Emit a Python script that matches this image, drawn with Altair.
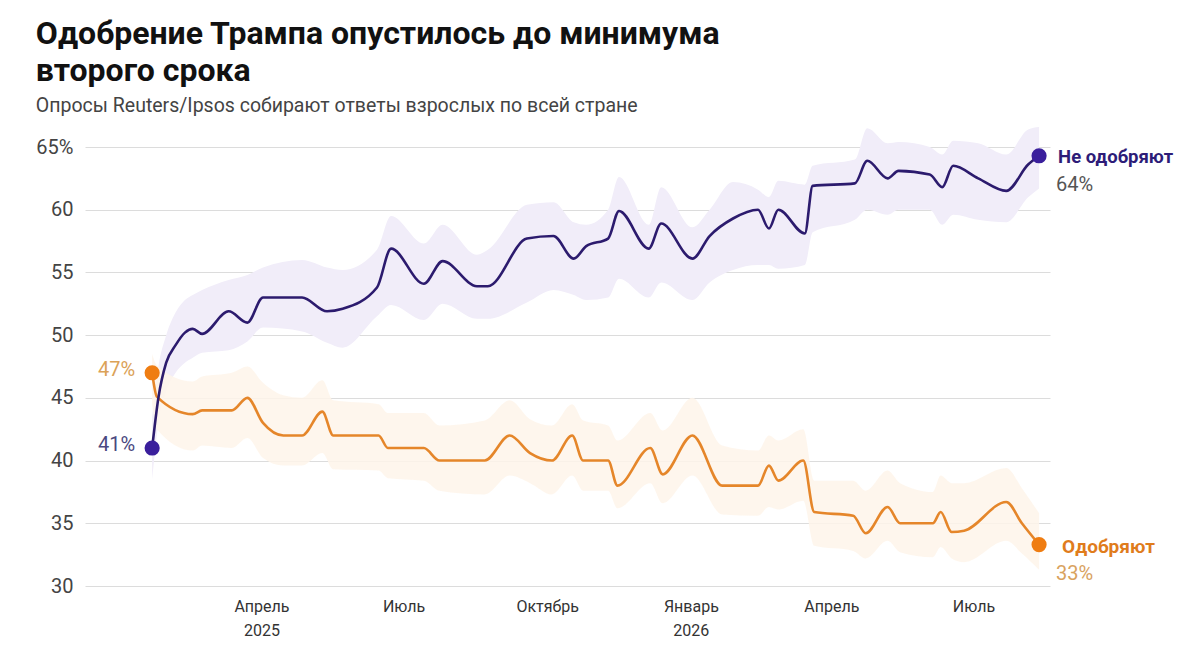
import altair as alt
import pandas as pd

# ---------------- data ----------------
dis_dates = ["2025-01-21", "2025-01-25", "2025-01-30", "2025-02-05", "2025-02-11", "2025-02-16",
             "2025-02-22", "2025-03-11", "2025-03-23", "2025-04-02", "2025-04-27", "2025-05-13",
             "2025-05-23", "2025-06-14", "2025-06-23", "2025-07-14", "2025-07-26", "2025-08-17",
             "2025-08-24", "2025-09-18", "2025-10-05", "2025-10-18", "2025-10-26", "2025-11-09",
             "2025-11-16", "2025-12-05", "2025-12-13", "2026-01-02", "2026-01-13", "2026-01-28",
             "2026-02-13", "2026-02-20", "2026-02-26", "2026-03-15", "2026-03-20", "2026-04-16",
             "2026-04-24", "2026-05-07", "2026-05-14", "2026-06-03", "2026-06-11", "2026-06-18",
             "2026-07-04", "2026-07-22", "2026-08-05", "2026-08-12"]
dis_vals = [41, 45, 47.8, 49.2, 50.2, 50.5,
            50.1, 51.9, 51, 53, 53, 51.9,
            52.1, 53.8, 56.9, 54.1, 55.9, 53.9,
            53.9, 57.7, 57.9, 56.1, 57.1, 57.7,
            59.9, 56.9, 58.9, 56.1, 57.9, 59.3,
            60, 58.5, 60, 58.1, 61.9, 62.1,
            63.9, 62.5, 63.1, 62.8, 61.8, 63.5,
            62.5, 61.5, 63.6, 64.3]
dis_lo = [38.5, 43, 45.5, 47, 47.8, 48.2,
          48.6, 48.8, 49.5, 50.6, 50.3, 49.4,
          49, 51.5, 52.4, 51.2, 52.5, 51.3,
          51.3, 52.6, 53.6, 53.2, 52.8, 53,
          54.5, 53, 54.2, 52.8, 54.2, 55.2,
          55.6, 55.6, 55.3, 55.6, 58.2, 59.2,
          60, 59.6, 60, 60, 58.8, 59.6,
          59.2, 59, 61, 61.7]
dis_hi = [43.5, 47.5, 50, 51.8, 52.8, 53.2,
          53.6, 54.4, 54.8, 55.4, 56, 55.4,
          55.2, 56.8, 59.5, 57.3, 58.8, 56.4,
          56.8, 60.4, 60.6, 59, 58.8, 60,
          62.6, 58.8, 61.8, 58.6, 60, 62.2,
          61.6, 61, 62.3, 62, 63.5, 64,
          66.5, 65.3, 65.4, 65, 64.4, 65.5,
          65.3, 64.4, 66.4, 66.6]

app_dates = ["2025-01-21", "2025-01-24", "2025-02-16", "2025-02-22", "2025-03-13", "2025-03-23",
             "2025-04-02", "2025-04-15", "2025-04-27", "2025-05-10", "2025-05-17", "2025-06-15",
             "2025-06-21", "2025-07-14", "2025-07-24", "2025-08-22", "2025-09-07", "2025-09-20",
             "2025-10-04", "2025-10-17", "2025-10-24", "2025-11-09", "2025-11-15", "2025-12-06",
             "2025-12-14", "2026-01-02", "2026-01-21", "2026-02-13", "2026-02-20", "2026-02-26",
             "2026-03-14", "2026-03-21", "2026-04-15", "2026-04-23", "2026-05-07", "2026-05-15",
             "2026-06-05", "2026-06-10", "2026-06-17", "2026-06-25", "2026-07-22", "2026-08-01",
             "2026-08-12"]
app_vals = [47, 45.1, 43.7, 44, 44, 45,
            43, 42, 42, 43.9, 42, 42,
            41, 41, 40, 40, 42, 40.6,
            40, 42, 40, 40, 38, 41,
            38.9, 42, 38, 38, 39.6, 38.4,
            40, 35.9, 35.6, 34.2, 36.3, 35,
            35, 35.9, 34.3, 34.4, 36.7, 35,
            33.3]
app_lo = [44.5, 42.5, 40.8, 41.2, 41, 41.8,
          40.2, 39.6, 39.6, 40.6, 39.3, 39.2,
          38.6, 38.4, 37.6, 37.3, 38.8, 38.2,
          37.3, 38.8, 37.6, 37.6, 36.2, 38.2,
          36.6, 38.8, 35.7, 35.6, 36.3, 36.1,
          36.8, 33.2, 32.8, 32.2, 33.6, 32.7,
          32.3, 33.1, 32.2, 31.9, 33.6, 32.6,
          31.3]
app_hi = [48.5, 47.6, 46.3, 46.7, 47, 47.5,
          46.2, 45.2, 45, 46.4, 44.8, 44.5,
          43.8, 43.8, 42.8, 43.2, 44.8, 43.3,
          42.8, 44.5, 43.2, 42.8, 41.6, 43.8,
          42.4, 45, 41.2, 40.8, 42, 41.6,
          42.5, 38.4, 38.4, 37.6, 39.2, 38.2,
          37.5, 38.8, 38.2, 38.2, 39.4, 37.8,
          35.8]

series_names = ["Не одобряют", "Одобряют"]
end_pcts = ["64%", "33%"]
start_pcts = ["41%", "47%"]

tick_years = [2025, 2025, 2025, 2026, 2026, 2026]
tick_months = [4, 7, 10, 1, 4, 7]
tick_labels = [["Апрель", "2025"], ["Июль"], ["Октябрь"], ["Январь", "2026"], ["Апрель"], ["Июль"]]

title_lines = ["Одобрение Трампа опустилось до минимума", "второго срока"]
subtitle = "Опросы Reuters/Ipsos собирают ответы взрослых по всей стране"

PURPLE_LINE = "#2c1b6e"
PURPLE_DOT = "#3a1f9c"
PURPLE_BAND = "#f1edf9"
ORANGE_LINE = "#e5862a"
ORANGE_DOT = "#ef7d12"
ORANGE_BAND = "#fef4ea"
FONT = "Roboto"

# ---------------- tables ----------------
df_dis = pd.DataFrame({"date": dis_dates, "value": dis_vals, "lo": dis_lo, "hi": dis_hi})
df_app = pd.DataFrame({"date": app_dates, "value": app_vals, "lo": app_lo, "hi": app_hi})

df_end = pd.DataFrame({
    "date": [dis_dates[-1], app_dates[-1]],
    "value": [dis_vals[-1], app_vals[-1]],
    "name": series_names,
    "pct": end_pcts,
})
df_start = pd.DataFrame({
    "date": [dis_dates[0], app_dates[0]],
    "value": [dis_vals[0], app_vals[0]],
    "name": series_names,
    "pct": start_pcts,
})

def js_label(lbl):
    if len(lbl) == 1:
        return "'" + lbl[0] + "'"
    return "[" + ",".join("'" + s + "'" for s in lbl) + "]"

label_expr = ""
for yy, mm, lbl in zip(tick_years, tick_months, tick_labels):
    label_expr += f"(utcyear(datum.value)=={yy} && utcmonth(datum.value)=={mm - 1}) ? {js_label(lbl)} : "
label_expr += "''"

tick_vals = [alt.DateTime(year=yy, month=mm, date=1, utc=True) for yy, mm in zip(tick_years, tick_months)]

x_axis = alt.Axis(values=tick_vals, labelExpr=label_expr, grid=False, domain=False, ticks=False,
                  labelFont=FONT, labelFontSize=16, labelColor="#333", labelPadding=12,
                  labelLineHeight=24, labelAlign="center", labelBaseline="top")
x_scale = alt.Scale(type="utc",
                    domain=[alt.DateTime(year=2024, month=12, date=9, utc=True),
                            alt.DateTime(year=2026, month=8, date=19, utc=True)])
y_scale = alt.Scale(domain=[30, 65], nice=False, zero=False)
y_axis = alt.Axis(values=[30, 35, 40, 45, 50, 55, 60, 65], labelExpr="datum.value == 65 ? '65%' : datum.label",
                  domain=False, ticks=False, grid=True, gridColor="#dcdcdc", gridWidth=1,
                  labelFont=FONT, labelFontSize=20, labelColor="#444", labelPadding=12, orient="left")

def X():
    return alt.X("date:T", title=None, scale=x_scale, axis=x_axis)

def Y(field):
    return alt.Y(field, title=None, scale=y_scale, axis=y_axis)

band_dis = alt.Chart(df_dis).mark_area(color=PURPLE_BAND, opacity=1, interpolate="monotone").encode(
    x=X(), y=Y("lo:Q"), y2="hi:Q")
band_app = alt.Chart(df_app).mark_area(color=ORANGE_BAND, opacity=0.85, interpolate="monotone").encode(
    x=X(), y=Y("lo:Q"), y2="hi:Q")
line_app = alt.Chart(df_app).mark_line(color=ORANGE_LINE, strokeWidth=2.6, interpolate="monotone").encode(
    x=X(), y=Y("value:Q"))
line_dis = alt.Chart(df_dis).mark_line(color=PURPLE_LINE, strokeWidth=2.6, interpolate="monotone").encode(
    x=X(), y=Y("value:Q"))

dot_color = alt.Color("name:N", scale=alt.Scale(domain=series_names, range=[PURPLE_DOT, ORANGE_DOT]), legend=None)
dots_end = alt.Chart(df_end).mark_circle(size=230, opacity=1).encode(x=X(), y=Y("value:Q"), color=dot_color)
dots_start = alt.Chart(df_start).mark_circle(size=230, opacity=1).encode(x=X(), y=Y("value:Q"), color=dot_color)

name_color = alt.Color("name:N", scale=alt.Scale(domain=series_names, range=["#2d1c78", "#e07c1c"]), legend=None)
end_name_dis = alt.Chart(df_end).transform_filter(alt.datum.name == series_names[0]).mark_text(
    align="left", baseline="middle", dx=19, dy=1, font=FONT, fontSize=18.5, fontWeight="bold").encode(
    x=X(), y=Y("value:Q"), text="name:N", color=name_color)
end_name_app = alt.Chart(df_end).transform_filter(alt.datum.name == series_names[1]).mark_text(
    align="left", baseline="middle", dx=23, dy=2, font=FONT, fontSize=19, fontWeight="bold").encode(
    x=X(), y=Y("value:Q"), text="name:N", color=name_color)
end_pcts_l = alt.Chart(df_end).mark_text(align="left", baseline="middle", dx=17, dy=29, font=FONT,
                                         fontSize=20).encode(
    x=X(), y=Y("value:Q"), text="pct:N",
    color=alt.Color("name:N", scale=alt.Scale(domain=series_names, range=["#555555", "#d9a25e"]), legend=None))
start_pcts_l = alt.Chart(df_start).mark_text(align="right", baseline="middle", dx=-17, dy=-3, font=FONT,
                                             fontSize=20).encode(
    x=X(), y=Y("value:Q"), text="pct:N",
    color=alt.Color("name:N", scale=alt.Scale(domain=series_names, range=["#4a4880", "#dba257"]), legend=None))

chart = alt.layer(
    band_dis, band_app, line_app, line_dis, dots_start, dots_end,
    end_name_dis, end_name_app, end_pcts_l, start_pcts_l
).resolve_scale(color="independent").properties(
    width=965, height=439,
    background="white",
    padding={"left": 27, "top": 9, "right": 5, "bottom": 5},
    title=alt.TitleParams(text=title_lines, subtitle=subtitle, anchor="start", frame="bounds",
                          font=FONT, fontSize=32, fontWeight="bold", color="#111", lineHeight=37.5,
                          subtitleFont=FONT, subtitleFontSize=19.5, subtitleColor="#444",
                          subtitlePadding=9, offset=10),
).configure_view(strokeWidth=0).configure_axis(domain=False, ticks=False).configure_axisX(grid=False)

chart.save("out.html", embed_options={"renderer": "svg", "actions": False})
